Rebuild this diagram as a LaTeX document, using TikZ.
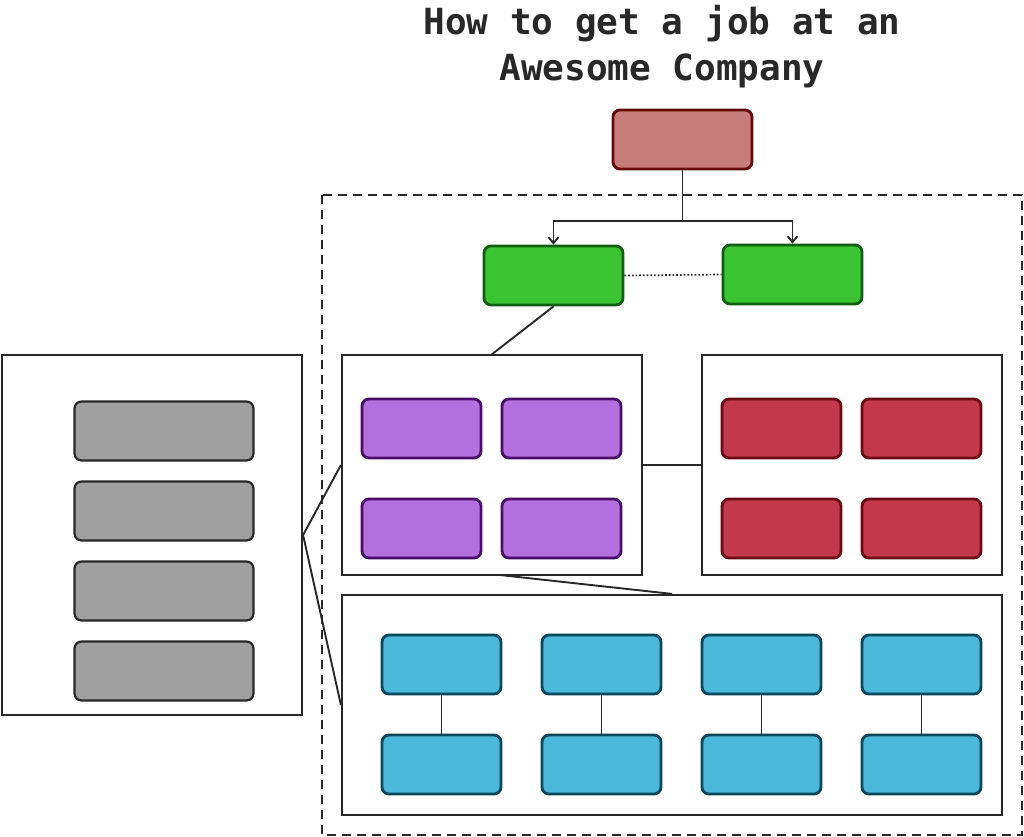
\documentclass[tikz,border=0pt]{standalone}
\usepackage{fontspec}
\newfontfamily\titlefont{DejaVu Sans Mono}
\usetikzlibrary{arrows.meta}
\definecolor{ink}{RGB}{40,40,40}
\definecolor{topfill}{RGB}{197,124,122}
\definecolor{topline}{RGB}{100,8,8}
\definecolor{grnfill}{RGB}{59,195,50}
\definecolor{grnline}{RGB}{16,94,16}
\definecolor{purfill}{RGB}{181,112,223}
\definecolor{purline}{RGB}{72,12,105}
\definecolor{redfill}{RGB}{196,56,77}
\definecolor{redline}{RGB}{105,10,20}
\definecolor{cyanfill}{RGB}{76,185,219}
\definecolor{cyanline}{RGB}{10,72,92}
\definecolor{grayfill}{RGB}{160,160,160}
\tikzset{
  cbox/.style={draw, line width=2.8pt, rounded corners=7pt, minimum width=119pt, minimum height=59pt, inner sep=0pt},
  topbox/.style={cbox, fill=topfill, draw=topline},
  grnbox/.style={cbox, fill=grnfill, draw=grnline},
  purbox/.style={cbox, fill=purfill, draw=purline},
  redbox/.style={cbox, fill=redfill, draw=redline},
  cyanbox/.style={cbox, fill=cyanfill, draw=cyanline},
  graybox/.style={cbox, fill=grayfill, draw=ink, line width=2.2pt, minimum width=179pt, minimum height=59pt},
  container/.style={draw=ink, line width=2.2pt, fill=white, inner sep=0pt},
  conn/.style={draw=ink, line width=1.9pt},
  arr/.style={conn, -{Straight Barb[length=6pt,width=10pt,line width=1.9pt]}},
}
\begin{document}
\begin{tikzpicture}[x=1pt,y=-1pt]
\useasboundingbox (0,0) rectangle (1024,836);
% title
\node[text=ink, align=center, font=\titlefont\bfseries\fontsize{36}{46}\selectfont] (title) at (662,47) {How to get a job at an\\Awesome Company};
% dashed frame
\draw[ink, line width=1.8pt, dash pattern=on 9pt off 6pt] (322,195) rectangle (1022,835);
% top node
\node[topbox, minimum width=139pt] (top) at (682.5,139.5) {};
% green nodes
\node[grnbox, minimum width=139pt] (gl) at (553.5,275.5) {};
\node[grnbox, minimum width=139pt] (gr) at (792.5,274.5) {};
% containers
\node[container, minimum width=300pt, minimum height=360pt] (left) at (152,535) {};
\node[container, minimum width=300pt, minimum height=220pt] (pur) at (492,465) {};
\node[container, minimum width=300pt, minimum height=220pt] (red) at (852,465) {};
\node[container, minimum width=660pt, minimum height=220pt] (bot) at (672,705) {};
% purple boxes
\node[purbox] (p1) at (421.5,428.5) {};
\node[purbox] (p2) at (561.5,428.5) {};
\node[purbox] (p3) at (421.5,528.5) {};
\node[purbox] (p4) at (561.5,528.5) {};
% red boxes
\node[redbox] (r1) at (781.5,428.5) {};
\node[redbox] (r2) at (921.5,428.5) {};
\node[redbox] (r3) at (781.5,528.5) {};
\node[redbox] (r4) at (921.5,528.5) {};
% cyan boxes
\node[cyanbox] (c1) at (441.5,664.5) {};
\node[cyanbox] (c2) at (601.5,664.5) {};
\node[cyanbox] (c3) at (761.5,664.5) {};
\node[cyanbox] (c4) at (921.5,664.5) {};
\node[cyanbox] (d1) at (441.5,764.5) {};
\node[cyanbox] (d2) at (601.5,764.5) {};
\node[cyanbox] (d3) at (761.5,764.5) {};
\node[cyanbox] (d4) at (921.5,764.5) {};
% gray boxes
\node[graybox] (g1) at (164,431) {};
\node[graybox] (g2) at (164,511) {};
\node[graybox] (g3) at (164,591) {};
\node[graybox] (g4) at (164,671) {};
% connectors
\coordinate (split) at (682.5,221);
\draw[arr] (top.south) -- (split) -| (gl.north);
\draw[arr] (split) -| (gr.north);
\draw[conn, line width=1.7pt, dash pattern=on 1.7pt off 2pt] (gl.east) -- (gr.west);
\coordinate (purtop) at (491,355);
\draw[conn] (gl.south) -- (purtop);
\draw[conn] (pur.east) -- (red.west);
\coordinate (purbot) at (500,575);
\draw[conn] (purbot) -- (bot.north);
\draw[conn] (left.east) -- (pur.west);
\draw[conn] (left.east) -- (bot.west);
\foreach \i in {1,2,3,4} { \draw[conn] (c\i.south) -- (d\i.north); }
\end{tikzpicture}
\end{document}
